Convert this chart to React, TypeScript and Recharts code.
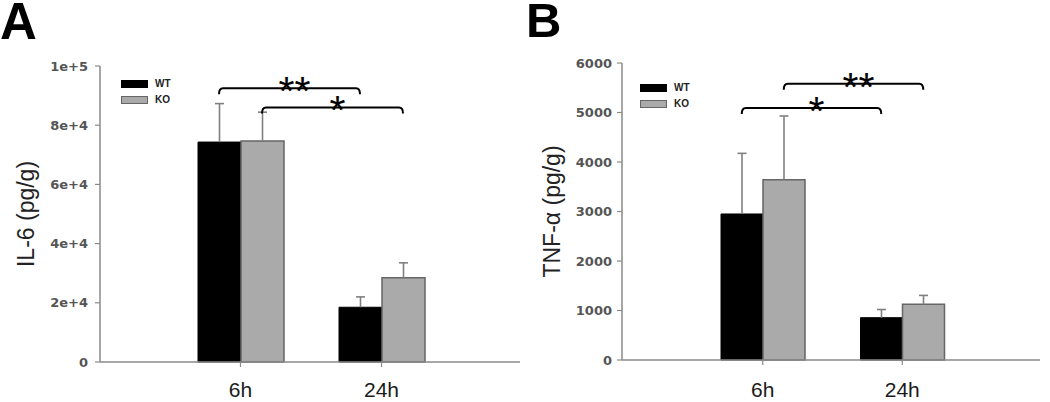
import React from 'react';
import { BarChart, Bar, XAxis, YAxis, ErrorBar, ReferenceLine, Legend } from 'recharts';

// ---- data ----
const categories = ['6h', '24h'];
const seriesOrder = ['WT', 'KO'];

const il6Wt = [74300, 18500];
const il6WtErr = [13000, 3500];
const il6Ko = [74700, 28500];
const il6KoErr = [9700, 5000];

const tnfWt = [2950, 855];
const tnfWtErr = [1225, 165];
const tnfKo = [3640, 1125];
const tnfKoErr = [1290, 180];

const il6Ticks = [0, 20000, 40000, 60000, 80000, 100000];
const il6TickLabels = ['0', '2e+4', '4e+4', '6e+4', '8e+4', '1e+5'];
const tnfTicks = [0, 1000, 2000, 3000, 4000, 5000, 6000];
const tnfTickLabels = ['0', '1000', '2000', '3000', '4000', '5000', '6000'];

const il6Brackets = [
  { from: '6h', to: '24h', series: 'WT', y: 92500, label: '**' },
  { from: '6h', to: '24h', series: 'KO', y: 86000, label: '*' },
];
const tnfBrackets = [
  { from: '6h', to: '24h', series: 'KO', y: 5580, label: '**' },
  { from: '6h', to: '24h', series: 'WT', y: 5090, label: '*' },
];

const buildRows = (wt: number[], wtErr: number[], ko: number[], koErr: number[]) =>
  categories.map((c, i) => ({
    cat: c,
    wt: wt[i],
    wtErr: [0, wtErr[i]],
    ko: ko[i],
    koErr: [0, koErr[i]],
  }));

const il6Data = buildRows(il6Wt, il6WtErr, il6Ko, il6KoErr);
const tnfData = buildRows(tnfWt, tnfWtErr, tnfKo, tnfKoErr);

const AXIS = '#8a8a8a';
const FONT = '"Liberation Sans", Arial, sans-serif';

const legendContent = (props: any) => {
  const items = [...(props.payload || [])].sort(
    (a: any, b: any) => seriesOrder.indexOf(a.value) - seriesOrder.indexOf(b.value)
  );
  return (
    <div>
      {items.map((it: any) => (
        <div key={it.value} style={{ display: 'flex', alignItems: 'center', height: 16 }}>
          <div
            style={{
              width: 25,
              height: 6,
              background: it.value === 'WT' ? '#000' : '#aaaaaa',
              border: it.value === 'WT' ? '1px solid #000' : '1px solid #666',
            }}
          />
          <span
            style={{
              marginLeft: 7,
              fontFamily: FONT,
              fontWeight: 'bold',
              fontSize: 10,
              color: '#222',
              lineHeight: '16px',
            }}
          >
            {it.value}
          </span>
        </div>
      ))}
    </div>
  );
};

const makeBracketShape = (b: any, half: number) => (props: any) => {
  const { x1, y1, x2 } = props;
  const dx = b.series === 'WT' ? -half : half;
  const xa = x1 + dx;
  const xb = x2 + dx;
  const y = y1;
  return (
    <g>
      <path
        d={`M${xa},${y + 6} Q${xa},${y} ${xa + 4},${y} L${xb - 4},${y} Q${xb},${y} ${xb},${y + 6}`}
        fill="none"
        stroke="#000"
        strokeWidth={2}
      />
      <text
        x={(xa + xb) / 2 + 5}
        y={y + 17}
        textAnchor="middle"
        fontSize={41}
        fontFamily={FONT}
        fill="#000"
      >
        {b.label}
      </text>
    </g>
  );
};

function Panel(props: any) {
  const {
    left, width, data, domain, ticks, tickLabels, yLabel, brackets, barSize,
    margin, yAxisWidth, xPadding, xAxisHeight, xTickMargin, yTickMargin,
    labelOffset, legendLeft, legendTop,
  } = props;
  return (
    <div style={{ position: 'absolute', left, top: 0 }}>
      <BarChart
        width={width}
        height={402}
        data={data}
        margin={margin}
        barGap={0}
        barSize={barSize}
      >
        <XAxis
          dataKey="cat"
          padding={xPadding}
          height={xAxisHeight}
          interval={0}
          axisLine={{ stroke: AXIS, strokeWidth: 1.5 }}
          tickLine={{ stroke: AXIS, strokeWidth: 1.2 }}
          tickSize={5}
          tickMargin={xTickMargin}
          tick={{ fill: '#1a1a1a', fontSize: 21, fontFamily: FONT }}
        />
        <YAxis
          width={yAxisWidth}
          domain={domain}
          ticks={ticks}
          interval={0}
          tickFormatter={(v: number) => tickLabels[ticks.indexOf(v)]}
          axisLine={{ stroke: AXIS, strokeWidth: 1.5 }}
          tickLine={{ stroke: AXIS, strokeWidth: 1.2 }}
          tickSize={5}
          tickMargin={yTickMargin}
          tick={{ fill: '#555', fontSize: 13, fontWeight: 'bold', fontFamily: '"DejaVu Sans", sans-serif' }}
          label={{
            value: yLabel,
            angle: -90,
            position: 'insideLeft',
            offset: labelOffset,
            style: { textAnchor: 'middle', fontSize: 23, fill: '#222', fontFamily: FONT },
          }}
        />
        <Legend
          layout="vertical"
          align="center"
          verticalAlign="middle"
          content={legendContent}
          wrapperStyle={{ left: legendLeft, top: legendTop, width: 'auto', height: 'auto' }}
        />
        <Bar dataKey="wt" name="WT" fill="#000" stroke="#000" strokeWidth={1} isAnimationActive={false}>
          <ErrorBar dataKey="wtErr" direction="y" width={4.5} stroke="#808080" strokeWidth={1.6} />
        </Bar>
        <Bar dataKey="ko" name="KO" fill="#aaaaaa" stroke="#666" strokeWidth={1.5} isAnimationActive={false}>
          <ErrorBar dataKey="koErr" direction="y" width={4.5} stroke="#808080" strokeWidth={1.6} />
        </Bar>
        {brackets.map((b: any, i: number) => (
          <ReferenceLine
            key={i}
            segment={[{ x: b.from, y: b.y }, { x: b.to, y: b.y }]}
            shape={makeBracketShape(b, barSize / 2)}
            ifOverflow="visible"
          />
        ))}
      </BarChart>
    </div>
  );
}

export default function App() {
  return (
    <div style={{ position: 'absolute', left: 0, top: 0, width: 1050, height: 402, background: '#fff', overflow: 'hidden' }}>
      <style>{`.recharts-errorBar line:nth-of-type(3){display:none}`}</style>
      <Panel
        left={0}
        width={522}
        data={il6Data}
        domain={[0, 100000]}
        ticks={il6Ticks}
        tickLabels={il6TickLabels}
        yLabel="IL-6 (pg/g)"
        brackets={il6Brackets}
        barSize={43}
        margin={{ top: 66, right: 2, bottom: 0, left: 0 }}
        yAxisWidth={100}
        xPadding={{ left: 70, right: 68 }}
        xAxisHeight={40}
        xTickMargin={15}
        yTickMargin={7}
        labelOffset={26}
        legendLeft={121}
        legendTop={76}
      />
      <Panel
        left={520}
        width={530}
        data={tnfData}
        domain={[0, 6000]}
        ticks={tnfTicks}
        tickLabels={tnfTickLabels}
        yLabel="TNF-α (pg/g)"
        brackets={tnfBrackets}
        barSize={42}
        margin={{ top: 63, right: 10, bottom: 0, left: 0 }}
        yAxisWidth={102}
        xPadding={{ left: 71, right: 68 }}
        xAxisHeight={42}
        xTickMargin={17}
        yTickMargin={5}
        labelOffset={32}
        legendLeft={120}
        legendTop={80}
      />
      <svg width={1050} height={402} style={{ position: 'absolute', left: 0, top: 0, pointerEvents: 'none' }}>
        <text x={0} y={39} fontSize={51} fontWeight="bold" fontFamily={FONT} fill="#000">A</text>
        <text x={526} y={37} fontSize={49} fontWeight="bold" fontFamily={FONT} fill="#000">B</text>
      </svg>
    </div>
  );
}
